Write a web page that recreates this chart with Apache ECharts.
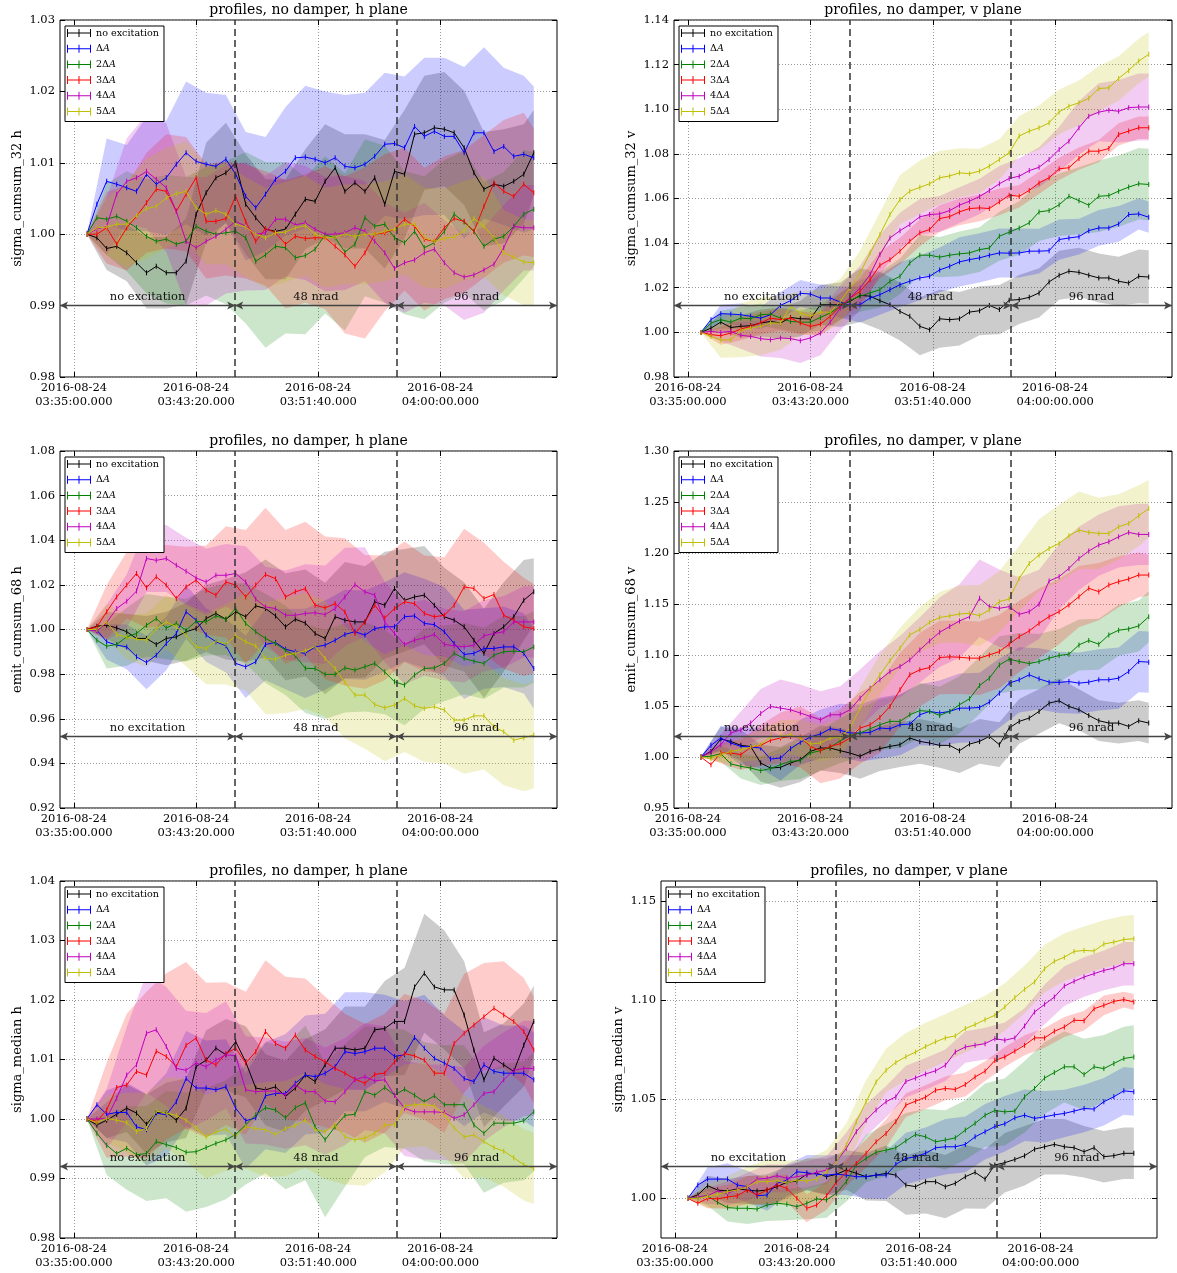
<!DOCTYPE html>
<html>
<head>
<meta charset="utf-8">
<script src="https://cdn.jsdelivr.net/npm/echarts@6/dist/echarts.min.js"></script>
<style>
html,body{margin:0;padding:0;background:#fff}
#chart{width:1177px;height:1273px}
</style>
</head>
<body>
<div id="chart"></div>
<script>
// Sample times, seconds after 2016-08-24 03:35:00 UTC
const sampleSec = [53,94,134,175,216,256,297,337,378,419,459,500,541,581,622,662,703,744,784,825,866,906,947,987,1028,1069,1109,1150,1191,1231,1272,1312,1353,1394,1434,1475,1516,1556,1597,1637,1678,1719,1759,1800,1841,1882];
// Half-width of the shaded spread is sampled on every second time point (plus the last one)
const seriesNames = ['no excitation', 'ΔA', '2ΔA', '3ΔA', '4ΔA', '5ΔA'];
const tickSec = [0, 500, 1000, 1500];
const stepSec = [660, 1320];
const phaseLabels = ['no excitation', '48 nrad', '96 nrad'];

// sigma_cumsum_32 h
const h32_none = [1.0,0.9995,0.998,0.9983,0.9974,0.996,0.9946,0.9955,0.9946,0.9946,0.9962,1.0028,1.0058,1.0079,1.0086,1.01,1.0042,1.0023,1.0007,1.0004,1.0007,1.0028,1.0049,1.0046,1.0074,1.0093,1.006,1.0072,1.006,1.0079,1.0042,1.0088,1.0084,1.014,1.0142,1.0149,1.0147,1.0142,1.0121,1.0086,1.0063,1.007,1.0067,1.0074,1.0084,1.0114];
const h32_1 = [1.0,1.0042,1.0074,1.007,1.0065,1.006,1.0084,1.007,1.0079,1.0098,1.0114,1.0102,1.0098,1.0095,1.0105,1.0084,1.0053,1.0037,1.0056,1.0077,1.0088,1.0107,1.0108,1.0105,1.01,1.0107,1.0095,1.0093,1.0098,1.0109,1.0126,1.0127,1.0121,1.0151,1.0137,1.0144,1.0137,1.0137,1.0114,1.0142,1.0142,1.0116,1.0123,1.0109,1.0112,1.0107];
const h32_2 = [1.0,1.0023,1.0021,1.0025,1.0018,1.0009,0.9997,0.999,0.9993,0.9986,0.999,1.0011,1.0004,1.0,1.0002,1.0004,0.9995,0.9962,0.9971,0.9983,0.9981,0.9967,0.997,0.9979,0.9999,0.9995,0.9975,0.9986,1.0023,1.0011,1.0014,0.9995,0.9988,1.0004,0.9981,0.9988,1.0004,1.0028,1.0017,1.0004,0.9983,0.9993,0.9997,1.0011,1.0028,1.0035];
const h32_3 = [1.0,1.0,1.0009,0.9986,1.0009,1.0025,1.0044,1.0063,1.006,1.0032,1.0056,1.0079,1.0018,1.0018,1.0022,1.0053,1.0018,0.999,1.0008,1.0002,0.9986,0.9997,0.9994,0.9995,0.9995,0.9983,0.9971,0.9955,0.9974,1.0,1.0002,1.0007,1.0021,1.0011,0.9993,0.999,1.0009,1.0022,1.0018,1.0004,1.0039,1.0072,1.006,1.0053,1.007,1.0058];
const h32_4 = [1.0,1.0007,1.0011,1.0056,1.0074,1.0079,1.0088,1.0077,1.0065,1.0032,0.999,0.9981,0.999,0.9997,1.0007,1.0018,1.0011,1.0,1.0002,1.0021,1.0021,1.0013,1.0016,1.0007,1.0,1.0,1.0002,1.0009,1.0004,0.999,0.9974,0.9952,0.996,0.9964,0.9974,0.9979,0.996,0.9946,0.994,0.9943,0.995,0.9958,0.9981,1.0011,1.0009,1.0009];
const h32_5 = [1.0,1.0009,1.001,1.0014,1.0014,1.0026,1.0036,1.0039,1.0051,1.0057,1.006,1.0037,1.0028,1.0033,1.0028,1.0014,1.001,1.0,0.9995,1.0002,1.0003,1.0009,1.0012,1.0,0.9995,0.9996,1.0,0.9997,1.0,1.0,1.0004,1.0007,1.0014,1.0014,0.9995,0.999,0.9994,0.9996,1.0005,1.0022,1.0011,0.9995,0.9974,0.9968,0.9961,0.996];
const h32_none_hw = [0,.003,.004,.005,.005,.006,.007,.007,.007,.007,.007,.007,.008,.008,.008,.009,.009,.008,.008,.008,.008,.008,.007,.006];
const h32_1_hw = [0,.006,.006,.008,.008,.010,.010,.009,.009,.008,.009,.010,.010,.010,.010,.010,.010,.011,.011,.012,.012,.011,.011,.010];
const h32_2_hw = [0,.005,.007,.008,.009,.009,.009,.010,.012,.013,.012,.011,.011,.011,.011,.011,.010,.010,.010,.010,.009,.009,.009,.008];
const h32_3_hw = [0,.005,.006,.007,.008,.008,.008,.008,.008,.008,.009,.009,.010,.011,.012,.011,.010,.010,.010,.010,.010,.010,.010,.009];
const h32_4_hw = [0,.004,.006,.008,.009,.009,.009,.009,.009,.008,.008,.008,.008,.008,.007,.007,.007,.007,.006,.006,.006,.006,.006,.006];
const h32_5_hw = [0,.004,.006,.007,.007,.007,.007,.007,.007,.007,.007,.007,.007,.007,.007,.007,.007,.007,.007,.007,.007,.006,.006,.006];

// sigma_cumsum_32 v
const v32_none = [1.0,1.0019,1.0046,1.0022,1.0027,1.003,1.0042,1.0049,1.0042,1.0067,1.0061,1.006,1.0124,1.0124,1.0124,1.0139,1.0166,1.0162,1.0142,1.0124,1.0094,1.0072,1.0027,1.0012,1.0061,1.0057,1.0061,1.0091,1.0097,1.0121,1.0102,1.0144,1.0147,1.0157,1.0177,1.0226,1.0256,1.0274,1.0269,1.0256,1.0244,1.0244,1.0229,1.0221,1.0251,1.0248];
const v32_1 = [1.0,1.0057,1.0084,1.0082,1.0079,1.0072,1.0064,1.0079,1.0121,1.0142,1.0175,1.0172,1.0154,1.0154,1.0136,1.0121,1.0124,1.0154,1.0169,1.0191,1.0214,1.0229,1.0244,1.0251,1.028,1.0296,1.0316,1.0326,1.0334,1.0346,1.0356,1.0355,1.0356,1.0364,1.0364,1.0366,1.0416,1.0423,1.0429,1.0456,1.0468,1.0468,1.0486,1.0528,1.0531,1.0516];
const v32_2 = [1.0,1.0042,1.0057,1.0046,1.0064,1.0061,1.0079,1.0082,1.0064,1.0049,1.0046,1.0046,1.0067,1.0087,1.0117,1.0144,1.0162,1.0177,1.0191,1.0229,1.0251,1.0311,1.0346,1.0346,1.0337,1.0346,1.0352,1.0356,1.0371,1.0378,1.0431,1.0449,1.0468,1.0491,1.054,1.0546,1.0572,1.061,1.059,1.057,1.061,1.0613,1.0633,1.0651,1.0666,1.0663];
const v32_3 = [1.0,0.999,0.9985,0.9997,1.0015,1.0027,1.0042,1.0064,1.0057,1.0064,1.0042,1.0027,1.0037,1.0072,1.0117,1.0154,1.0184,1.0236,1.0301,1.0326,1.0364,1.0408,1.0446,1.0461,1.051,1.0519,1.054,1.0555,1.0558,1.0555,1.0585,1.0615,1.061,1.0636,1.067,1.0693,1.0733,1.0738,1.0779,1.0812,1.0812,1.0824,1.0887,1.0902,1.0917,1.0917];
const v32_4 = [1.0,1.0004,1.0,1.0004,0.9987,0.9982,0.9972,0.9967,0.9975,0.9972,0.9963,0.9975,0.9997,1.0046,1.0109,1.0154,1.0199,1.0259,1.0349,1.0423,1.0456,1.0483,1.0518,1.0528,1.0531,1.0546,1.057,1.0588,1.0609,1.0636,1.0666,1.069,1.07,1.0725,1.074,1.0775,1.082,1.0857,1.0917,1.0969,1.0987,1.0996,1.0991,1.1007,1.101,1.101];
const v32_5 = [1.0,0.9982,0.9966,0.9967,1.0009,1.0019,1.0027,1.0042,1.0042,1.0117,1.0087,1.0072,1.0091,1.009,1.0139,1.0199,1.0266,1.0356,1.0438,1.0528,1.0595,1.0633,1.065,1.0666,1.0693,1.0701,1.0715,1.0711,1.0723,1.0745,1.0775,1.0805,1.088,1.0902,1.0917,1.0939,1.0988,1.1014,1.1029,1.1049,1.1093,1.1096,1.1138,1.1174,1.1216,1.1246];
const v32_none_hw = [0,.004,.005,.006,.007,.008,.009,.010,.012,.013,.013,.013,.013,.012,.011,.011,.011,.011,.011,.011,.011,.011,.012,.012];
const v32_1_hw = [0,.004,.005,.005,.006,.006,.006,.007,.008,.009,.010,.010,.010,.011,.011,.011,.011,.010,.009,.008,.008,.008,.007,.007];
const v32_2_hw = [0,.004,.005,.005,.005,.005,.006,.006,.007,.008,.008,.009,.009,.010,.010,.011,.012,.013,.014,.015,.016,.016,.016,.016];
const v32_3_hw = [0,.004,.005,.005,.005,.005,.005,.006,.006,.006,.006,.006,.006,.006,.006,.006,.005,.005,.005,.005,.005,.005,.005,.005];
const v32_4_hw = [0,.004,.006,.008,.009,.010,.010,.010,.010,.009,.008,.008,.008,.008,.008,.008,.008,.009,.010,.012,.013,.014,.015,.015];
const v32_5_hw = [0,.008,.012,.013,.012,.010,.010,.010,.010,.010,.011,.012,.012,.011,.010,.009,.009,.010,.010,.010,.010,.010,.010,.010];

// emit_cumsum_68 h
const e68h_none = [1.0,1.0015,1.0019,1.0007,0.999,0.996,0.996,0.9933,0.996,0.9967,0.999,1.0004,1.0049,1.0072,1.0046,1.0079,1.0057,1.0106,1.0094,1.0061,1.0012,1.0046,1.0029,0.9982,0.996,1.0057,1.0042,1.0034,1.0034,1.0124,1.0109,1.0184,1.0131,1.0146,1.0154,1.0109,1.0057,1.0042,1.0012,0.9952,0.9893,0.9982,1.0012,1.0057,1.0131,1.0169];
const e68h_1 = [1.0,0.9997,0.9945,0.993,0.9922,0.9878,0.9852,0.9885,0.9937,0.9982,1.0079,1.0042,0.9975,0.9945,0.9927,0.9848,0.9833,0.9855,0.9933,0.9942,0.9912,0.99,0.9893,0.9922,0.993,0.9952,0.9978,0.999,0.9975,1.0004,1.0012,1.0012,1.0057,1.0061,1.0027,1.0022,0.999,0.9937,0.9888,0.9893,0.9915,0.9915,0.9922,0.9922,0.9893,0.9825];
const e68h_2 = [1.0,0.9952,0.9925,0.9933,0.9967,0.9982,1.0019,1.0049,1.0007,1.0027,0.9997,1.0037,1.0034,1.0061,1.0046,1.0094,1.0027,0.999,0.996,0.9937,0.9907,0.9882,0.9826,0.9825,0.9799,0.9799,0.9828,0.9818,0.9833,0.9848,0.981,0.9766,0.9751,0.9796,0.9825,0.9828,0.9848,0.9893,0.987,0.9858,0.9848,0.9885,0.99,0.9903,0.99,0.9922];
const e68h_3 = [1.0,1.0012,1.0079,1.0146,1.0199,1.0251,1.0187,1.0236,1.0199,1.0139,1.0191,1.0221,1.0176,1.0154,1.0213,1.0199,1.0146,1.0199,1.0246,1.0228,1.0146,1.0169,1.0183,1.0109,1.0097,1.0116,1.0079,0.9982,1.0034,1.0109,1.0052,1.0094,1.0124,1.0116,1.0072,1.0057,1.0064,1.0109,1.0191,1.0184,1.0139,1.0157,1.0064,1.0042,1.0012,1.0004];
const e68h_4 = [1.0,0.9993,1.0031,1.0094,1.0127,1.0172,1.0318,1.031,1.0318,1.0288,1.0261,1.0231,1.0213,1.0243,1.0243,1.0251,1.0213,1.0136,1.0101,1.0094,1.0064,1.0064,1.0072,1.0075,1.0067,1.0094,1.0146,1.0201,1.0169,1.0154,1.0034,0.9982,0.9933,0.9952,0.9963,0.9978,0.9933,0.9927,0.9922,0.993,0.9972,0.9982,0.999,1.0034,1.0034,1.0034];
const e68h_5 = [1.0,1.0,1.0034,0.9978,0.9966,0.9957,0.9952,1.0004,1.0034,1.0012,0.9975,0.9922,0.9915,0.9949,0.9933,0.9972,0.9945,0.9927,0.987,0.9867,0.9885,0.9893,0.9904,0.9925,0.987,0.9825,0.9763,0.9706,0.9706,0.9664,0.9649,0.9661,0.9691,0.9658,0.9646,0.9654,0.9639,0.9594,0.9594,0.9613,0.9613,0.9564,0.9542,0.9504,0.9515,0.9527];
const e68h_none_hw = [0,.006,.008,.010,.012,.013,.015,.018,.020,.022,.024,.024,.025,.026,.025,.024,.023,.022,.022,.020,.020,.020,.018,.015];
const e68h_1_hw = [0,.008,.010,.012,.012,.012,.012,.012,.014,.016,.018,.020,.020,.020,.020,.020,.020,.020,.020,.020,.018,.018,.018,.018];
const e68h_2_hw = [0,.010,.013,.014,.014,.014,.015,.016,.018,.020,.020,.020,.020,.020,.020,.019,.018,.018,.017,.016,.016,.016,.016,.016];
const e68h_3_hw = [0,.012,.015,.018,.018,.018,.020,.025,.030,.030,.030,.030,.032,.033,.030,.028,.027,.026,.026,.026,.025,.024,.022,.020];
const e68h_4_hw = [0,.008,.012,.015,.015,.015,.015,.014,.016,.018,.020,.022,.022,.022,.020,.018,.018,.017,.016,.016,.016,.016,.016,.016];
const e68h_5_hw = [0,.008,.010,.012,.012,.014,.016,.018,.022,.025,.026,.026,.026,.025,.024,.024,.024,.024,.024,.024,.024,.024,.024,.024];

// emit_cumsum_68 v
const e68v_none = [1.0,1.0055,1.0176,1.0153,1.0114,1.0104,0.9941,0.9892,0.9899,0.9941,0.9974,1.0055,1.0088,1.0088,1.0062,1.0039,1.0007,1.0055,1.0082,1.0104,1.0121,1.0186,1.0153,1.0137,1.0114,1.0114,1.0062,1.0127,1.0153,1.0202,1.0121,1.0284,1.0349,1.0382,1.0447,1.0528,1.0551,1.0496,1.0463,1.0408,1.0356,1.0333,1.0333,1.03,1.0356,1.0333];
const e68v_1 = [1.0,1.0114,1.0186,1.0137,1.0104,1.0098,1.0088,0.998,0.999,1.0082,1.0144,1.0196,1.0225,1.0277,1.0261,1.0235,1.0235,1.0241,1.0284,1.0277,1.0316,1.0323,1.0414,1.0447,1.0431,1.0447,1.0479,1.0479,1.0486,1.0538,1.0626,1.0724,1.0757,1.0806,1.0766,1.0734,1.0731,1.074,1.0724,1.0734,1.0757,1.0757,1.0773,1.0838,1.0936,1.093];
const e68v_2 = [1.0,1.0007,1.0033,0.9932,0.9909,0.9892,0.9866,0.9886,0.9925,0.9958,0.9964,1.0039,1.0062,1.0095,1.016,1.0212,1.0235,1.0277,1.0316,1.0349,1.0349,1.0414,1.0455,1.0447,1.0408,1.0447,1.0512,1.0571,1.0701,1.0773,1.0903,1.0959,1.0936,1.0916,1.0936,1.0969,1.0995,1.1008,1.1099,1.1142,1.1106,1.1197,1.1243,1.1256,1.1285,1.1376];
const e68v_3 = [1.0,0.9925,1.0039,1.0039,1.0023,1.0095,1.0114,1.0163,1.0186,1.0202,1.0196,1.0104,1.0062,1.0104,1.013,1.0186,1.0284,1.0316,1.0388,1.0496,1.0659,1.0806,1.0855,1.0877,1.0975,1.0982,1.0978,1.0969,1.0969,1.1001,1.1034,1.1106,1.1181,1.1236,1.1311,1.1376,1.1425,1.1491,1.1572,1.1654,1.1621,1.1686,1.1719,1.1745,1.1784,1.1784];
const e68v_4 = [1.0,1.0049,1.0121,1.0235,1.0267,1.0333,1.0427,1.0496,1.0479,1.0463,1.0431,1.0398,1.0365,1.0414,1.0414,1.0463,1.0577,1.0675,1.0757,1.0838,1.0887,1.0952,1.105,1.1138,1.1223,1.1279,1.1334,1.1376,1.1556,1.1474,1.1458,1.1474,1.1399,1.1425,1.1497,1.1725,1.1768,1.1849,1.1947,1.2019,1.2078,1.211,1.2159,1.2202,1.2182,1.2182];
const e68v_5 = [1.0,0.9984,1.0023,1.0055,1.0072,1.0095,1.0121,1.0199,1.0202,1.0219,1.0186,1.0127,1.0137,1.0186,1.0192,1.0284,1.0479,1.0659,1.0806,1.0943,1.1067,1.1197,1.125,1.1321,1.1367,1.1383,1.1402,1.1409,1.1386,1.1442,1.1523,1.1549,1.1751,1.1898,1.198,1.2045,1.2094,1.2169,1.2224,1.2202,1.2192,1.2192,1.2257,1.229,1.2365,1.2436];
const e68v_none_hw = [0,.012,.015,.018,.020,.022,.022,.022,.022,.022,.022,.022,.022,.022,.022,.022,.022,.022,.022,.020,.020,.020,.020,.020];
const e68v_1_hw = [0,.012,.018,.020,.022,.022,.024,.026,.028,.030,.030,.030,.032,.034,.034,.034,.032,.030,.030,.030,.030,.030,.030,.030];
const e68v_2_hw = [0,.008,.012,.014,.016,.018,.020,.022,.024,.025,.026,.027,.028,.028,.028,.028,.028,.027,.026,.025,.025,.025,.025,.025];
const e68v_3_hw = [0,.010,.015,.020,.025,.030,.032,.034,.035,.035,.036,.036,.036,.036,.036,.036,.035,.034,.032,.030,.028,.025,.022,.020];
const e68v_4_hw = [0,.010,.018,.024,.028,.028,.028,.028,.028,.028,.030,.032,.034,.036,.038,.038,.036,.034,.032,.031,.030,.030,.030,.030];
const e68v_5_hw = [0,.008,.012,.015,.016,.018,.018,.018,.020,.020,.020,.022,.025,.028,.030,.030,.032,.035,.038,.038,.035,.032,.030,.028];

// sigma_median h
const medh_none = [1.0,0.999,0.9998,1.0008,1.0018,1.001,0.9991,1.0011,1.0011,0.9998,1.0018,1.0088,1.0099,1.0119,1.0108,1.013,1.0096,1.0052,1.0049,1.0054,1.0038,1.0052,1.0074,1.0063,1.0091,1.0119,1.0119,1.0116,1.0119,1.015,1.0152,1.0164,1.0164,1.0222,1.0245,1.0222,1.0217,1.0217,1.0175,1.0116,1.0066,1.0102,1.0091,1.008,1.0124,1.0164];
const medh_1 = [1.0,1.0024,1.0008,1.0011,1.0011,0.9987,0.9982,1.001,1.0007,1.0029,1.0068,1.0052,1.0052,1.0049,1.0054,1.0018,0.9997,1.0002,1.0039,1.0043,1.0043,1.006,1.0074,1.0071,1.0077,1.0088,1.0113,1.011,1.0113,1.0119,1.0119,1.0105,1.0108,1.0137,1.0119,1.0102,1.0094,1.0085,1.0068,1.0063,1.0091,1.008,1.0077,1.0077,1.0077,1.0066];
const medh_2 = [1.0,0.9976,0.9956,0.9942,0.9951,0.994,0.9942,0.9962,0.9957,0.9952,0.9944,0.9945,0.9952,0.9959,0.9965,0.9974,0.999,1.0007,1.0019,1.0015,1.0002,1.0019,1.0027,0.9987,0.9965,0.9987,1.0006,1.0008,1.0046,1.004,1.0053,1.004,1.005,1.004,1.0029,1.0039,1.0024,1.0024,1.0024,0.999,0.9976,0.9993,0.9993,0.9993,0.9997,1.0012];
const medh_3 = [1.0,0.9996,1.0015,1.0053,1.0057,1.008,1.0074,1.0114,1.0105,1.0088,1.0124,1.0136,1.0099,1.0091,1.011,1.0119,1.0094,1.0113,1.0147,1.0127,1.0119,1.0141,1.0116,1.0105,1.0096,1.0085,1.0077,1.0067,1.006,1.0075,1.0077,1.0096,1.011,1.0106,1.0099,1.0077,1.0077,1.0127,1.0144,1.0158,1.0172,1.0186,1.0175,1.0164,1.0147,1.0116];
const medh_4 = [1.0,1.0,1.0001,1.0035,1.0074,1.0091,1.0144,1.015,1.0122,1.0085,1.0082,1.0094,1.0088,1.0099,1.0108,1.0106,1.0049,1.0046,1.0047,1.0047,1.004,1.0057,1.0046,1.0046,1.003,1.0029,1.0046,1.0066,1.0071,1.0064,1.0066,1.004,1.0018,1.0012,1.0012,1.0012,1.0011,1.0001,1.0007,1.0024,1.0043,1.0046,1.0066,1.0082,1.0085,1.0085];
const medh_5 = [1.0,0.9994,1.0001,0.9998,0.9994,0.9979,0.9984,1.0013,1.001,1.0006,0.9998,0.9985,0.997,0.9978,0.9983,0.997,0.9987,0.9984,0.9982,0.9974,0.9984,0.9989,0.9998,0.9982,0.9979,0.999,0.997,0.9965,0.9968,0.9976,0.999,0.999,1.0022,1.0024,1.0024,1.0022,1.0007,0.9985,0.997,0.9973,0.9962,0.9952,0.9946,0.9935,0.9923,0.9917];
const medh_none_hw = [0,.003,.004,.005,.005,.005,.005,.006,.006,.006,.006,.006,.006,.007,.007,.008,.009,.010,.010,.009,.008,.007,.007,.006];
const medh_1_hw = [0,.004,.005,.006,.007,.008,.008,.008,.008,.009,.010,.010,.010,.010,.010,.009,.009,.009,.008,.008,.008,.008,.008,.008];
const medh_2_hw = [0,.005,.007,.008,.009,.010,.010,.010,.010,.011,.012,.013,.013,.012,.011,.010,.010,.010,.010,.010,.010,.010,.010,.010];
const medh_3_hw = [0,.008,.012,.014,.014,.014,.013,.012,.012,.012,.012,.012,.011,.010,.010,.010,.010,.010,.010,.010,.009,.009,.009,.009];
const medh_4_hw = [0,.005,.008,.010,.010,.010,.009,.009,.009,.009,.009,.009,.009,.009,.009,.009,.008,.008,.008,.008,.008,.008,.008,.008];
const medh_5_hw = [0,.004,.005,.006,.006,.007,.007,.007,.007,.008,.008,.008,.008,.008,.008,.008,.007,.007,.007,.007,.006,.006,.006,.006];

// sigma_median v
const medv_none = [1.0,1.0017,1.0064,1.0042,1.0037,1.0047,1.0042,1.0037,1.0042,1.0059,1.0081,1.0087,1.0122,1.0126,1.0109,1.0121,1.0143,1.0126,1.0109,1.0117,1.0126,1.0117,1.0067,1.0059,1.0084,1.0084,1.0059,1.0076,1.0109,1.0131,1.0097,1.0168,1.018,1.0196,1.0215,1.0248,1.026,1.0272,1.026,1.0255,1.0235,1.0255,1.021,1.0215,1.0227,1.0227];
const medv_1 = [1.0,1.0067,1.0097,1.0097,1.0097,1.0067,1.0059,1.0013,1.0017,1.0076,1.0092,1.0134,1.0129,1.0122,1.0117,1.0122,1.0117,1.0109,1.0109,1.0117,1.0117,1.0171,1.0201,1.021,1.0227,1.0255,1.026,1.026,1.0272,1.031,1.0336,1.0362,1.0376,1.0406,1.0419,1.0403,1.0411,1.0421,1.0428,1.044,1.0453,1.045,1.0487,1.0512,1.0542,1.0537];
const medv_2 = [1.0,1.0005,1.0013,0.998,0.9953,0.995,0.995,0.9946,0.9966,0.9975,0.997,0.9958,0.9975,0.9997,0.9992,1.0025,1.0084,1.0168,1.0201,1.0232,1.0243,1.0255,1.029,1.0322,1.031,1.0285,1.0294,1.0305,1.0344,1.0378,1.0419,1.0443,1.0436,1.044,1.0512,1.0554,1.0607,1.0634,1.0663,1.0663,1.0624,1.0663,1.0654,1.068,1.0705,1.0713];
const medv_3 = [1.0,0.9975,1.0,0.9997,1.0007,1.0013,1.0042,1.0017,1.0042,1.0067,1.005,1.0,0.995,0.9966,1.0013,1.0081,1.0131,1.0176,1.0227,1.0285,1.0327,1.0386,1.047,1.049,1.051,1.0545,1.0554,1.0549,1.0574,1.0612,1.0641,1.0695,1.0713,1.0742,1.0772,1.0809,1.0809,1.0842,1.0864,1.0898,1.0896,1.0956,1.0973,1.0993,1.1002,1.099];
const medv_4 = [1.0,1.0008,1.0013,1.0037,1.0025,1.0045,1.0059,1.0097,1.0101,1.0114,1.0101,1.0109,1.0117,1.0131,1.0143,1.0185,1.0252,1.0336,1.0394,1.0445,1.0487,1.0512,1.0589,1.0607,1.0627,1.0643,1.0671,1.0738,1.0763,1.0772,1.078,1.0805,1.0797,1.0809,1.0869,1.094,1.0978,1.1015,1.107,1.1094,1.1116,1.1133,1.1149,1.1161,1.1183,1.1183];
const medv_5 = [1.0,1.0,1.001,1.002,1.0034,1.0042,1.0059,1.0084,1.0084,1.0089,1.0079,1.0092,1.0087,1.0097,1.0134,1.0185,1.0268,1.0386,1.0487,1.0587,1.0646,1.0685,1.0714,1.0738,1.0765,1.0789,1.0809,1.0819,1.0856,1.0876,1.0901,1.0923,1.0965,1.1012,1.1054,1.1091,1.1158,1.1195,1.1216,1.1245,1.125,1.1247,1.1282,1.1292,1.1305,1.1309];
const medv_none_hw = [0,.005,.006,.007,.008,.008,.008,.009,.010,.012,.014,.015,.016,.016,.016,.015,.015,.015,.014,.014,.013,.013,.013,.013];
const medv_1_hw = [0,.006,.008,.008,.008,.008,.009,.010,.010,.011,.012,.013,.013,.014,.014,.014,.014,.013,.013,.012,.012,.012,.012,.012];
const medv_2_hw = [0,.005,.007,.008,.008,.008,.008,.009,.010,.012,.013,.014,.014,.015,.015,.016,.017,.018,.018,.018,.018,.017,.016,.016];
const medv_3_hw = [0,.005,.006,.007,.007,.007,.007,.007,.007,.007,.007,.006,.006,.006,.006,.005,.005,.005,.005,.005,.005,.005,.004,.004];
const medv_4_hw = [0,.004,.006,.007,.007,.007,.007,.007,.008,.008,.008,.008,.008,.008,.008,.008,.009,.009,.010,.010,.010,.010,.011,.011];
const medv_5_hw = [0,.006,.008,.010,.011,.011,.011,.011,.011,.011,.011,.012,.012,.012,.012,.012,.012,.012,.012,.012,.012,.012,.012,.012];

const panels = [
  {title: 'profiles, no damper, h plane', yName: 'sigma_cumsum_32 h', yRange: [0.98, 1.03], yStep: 0.01,
   lines: [h32_none, h32_1, h32_2, h32_3, h32_4, h32_5],
   spread: [h32_none_hw, h32_1_hw, h32_2_hw, h32_3_hw, h32_4_hw, h32_5_hw]},
  {title: 'profiles, no damper, v plane', yName: 'sigma_cumsum_32 v', yRange: [0.98, 1.14], yStep: 0.02,
   lines: [v32_none, v32_1, v32_2, v32_3, v32_4, v32_5],
   spread: [v32_none_hw, v32_1_hw, v32_2_hw, v32_3_hw, v32_4_hw, v32_5_hw]},
  {title: 'profiles, no damper, h plane', yName: 'emit_cumsum_68 h', yRange: [0.92, 1.08], yStep: 0.02,
   lines: [e68h_none, e68h_1, e68h_2, e68h_3, e68h_4, e68h_5],
   spread: [e68h_none_hw, e68h_1_hw, e68h_2_hw, e68h_3_hw, e68h_4_hw, e68h_5_hw]},
  {title: 'profiles, no damper, v plane', yName: 'emit_cumsum_68 v', yRange: [0.95, 1.30], yStep: 0.05,
   lines: [e68v_none, e68v_1, e68v_2, e68v_3, e68v_4, e68v_5],
   spread: [e68v_none_hw, e68v_1_hw, e68v_2_hw, e68v_3_hw, e68v_4_hw, e68v_5_hw]},
  {title: 'profiles, no damper, h plane', yName: 'sigma_median h', yRange: [0.98, 1.04], yStep: 0.01,
   lines: [medh_none, medh_1, medh_2, medh_3, medh_4, medh_5],
   spread: [medh_none_hw, medh_1_hw, medh_2_hw, medh_3_hw, medh_4_hw, medh_5_hw]},
  {title: 'profiles, no damper, v plane', yName: 'sigma_median v', yRange: [0.98, 1.16], yTicks: [1.00, 1.05, 1.10, 1.15],
   lines: [medv_none, medv_1, medv_2, medv_3, medv_4, medv_5],
   spread: [medv_none_hw, medv_1_hw, medv_2_hw, medv_3_hw, medv_4_hw, medv_5_hw]}
];

// ---- layout & style ----
const gridRects = [[60, 20, 497, 357], [674, 20, 498, 357], [60, 451, 497, 357], [674, 451, 498, 357], [60, 881, 497, 357], [661, 881, 496, 357]];
const lineColors = ['#000000', '#0000ff', '#008000', '#ff0000', '#bf00bf', '#bfbf00'];
const bandColors = ['rgba(0,0,0,0.2)', 'rgba(0,0,255,0.2)', 'rgba(0,128,0,0.2)', 'rgba(255,0,0,0.2)', 'rgba(191,0,191,0.2)', 'rgba(191,191,0,0.2)'];
const SERIF = '"DejaVu Serif", "Liberation Serif", serif';
const legendIcon = 'path://M0,4.5L24,4.5L24,5.5L0,5.5Z M0,1L1,1L1,9L0,9Z M23,1L24,1L24,9L23,9Z M11.5,1L12.5,1L12.5,9L11.5,9Z';

// x values are epoch milliseconds (UTC) on a plain value axis
const T0 = Date.UTC(2016, 7, 24, 3, 35, 0);
const toTime = s => T0 + s * 1000;
const xMin = toTime(-57), xMax = toTime(1977);
const xTicks = tickSec.map(toTime);
const times = sampleSec.map(toTime);

const pad = n => String(n).padStart(2, '0');
function fmtTime(v) {
  const d = new Date(v);
  return d.getUTCFullYear() + '-' + pad(d.getUTCMonth() + 1) + '-' + pad(d.getUTCDate()) + '\n' +
    pad(d.getUTCHours()) + ':' + pad(d.getUTCMinutes()) + ':' + pad(d.getUTCSeconds()) + '.000';
}

const tickStyle = {show: true, inside: true, length: 5, lineStyle: {color: '#000', width: 1}};
const gridLine = {show: true, lineStyle: {color: '#9a9a9a', width: 1, type: [1, 2]}};

const option = {
  animation: false, backgroundColor: '#fff',
  title: [], legend: [], grid: [], xAxis: [], yAxis: [], series: []
};

panels.forEach((pn, p) => {
  const [gl, gt, gw, gh] = gridRects[p];
  const [y0, y1] = pn.yRange;
  option.grid.push({left: gl, top: gt, width: gw, height: gh, show: true, borderColor: '#000', borderWidth: 1,
    backgroundColor: '#fff', outerBoundsMode: 'none', containLabel: false});

  option.title.push({text: pn.title, left: gl + gw / 2, top: gt - 17, textAlign: 'center', padding: 0,
    textStyle: {fontFamily: SERIF, fontSize: 14, fontWeight: 'normal', color: '#000'}});

  option.legend.push({
    data: seriesNames, orient: 'vertical', left: gl + 5, top: gt + 6, icon: legendIcon,
    itemWidth: 24, itemHeight: 10, itemGap: 5.7, selectedMode: false,
    padding: [2, 5, 5, 2], borderColor: '#000', borderWidth: 1, backgroundColor: '#fff',
    formatter: name => name.replace('A', '{i|A}'),
    textStyle: {fontFamily: SERIF, fontSize: 9.6, color: '#000', lineHeight: 10,
      rich: {i: {fontFamily: SERIF, fontSize: 9.6, fontStyle: 'italic', color: '#000'}}}
  });

  const xi = option.xAxis.length;
  option.xAxis.push({
    type: 'value', gridIndex: p, min: xMin, max: xMax, scale: true,
    axisLine: {show: false},
    axisTick: Object.assign({customValues: xTicks}, tickStyle),
    axisLabel: {customValues: xTicks, formatter: fmtTime, fontFamily: SERIF, fontSize: 11.5, color: '#000',
      lineHeight: 14, margin: 4, hideOverlap: false},
    splitLine: gridLine
  });
  option.xAxis.push({
    type: 'value', gridIndex: p, position: 'top', min: xMin, max: xMax, scale: true,
    axisLine: {show: false}, axisLabel: {show: false}, splitLine: {show: false},
    axisTick: Object.assign({customValues: xTicks}, tickStyle)
  });

  const yi = option.yAxis.length;
  const yTickOpt = pn.yTicks ? {customValues: pn.yTicks} : {};
  const yBase = {type: 'value', gridIndex: p, min: y0, max: y1};
  if (pn.yStep) yBase.interval = pn.yStep;
  option.yAxis.push(Object.assign({}, yBase, {
    axisLine: {show: false},
    axisTick: Object.assign({}, yTickOpt, tickStyle),
    axisLabel: Object.assign({}, yTickOpt, {formatter: v => v.toFixed(2), fontFamily: SERIF, fontSize: 11.5, color: '#000', margin: 5}),
    splitLine: gridLine,
    name: pn.yName, nameLocation: 'middle', nameGap: 36,
    nameTextStyle: {fontFamily: SERIF, fontSize: 13, color: '#000'}
  }));
  option.yAxis.push(Object.assign({}, yBase, {
    position: 'right', axisLine: {show: false}, axisLabel: {show: false}, splitLine: {show: false},
    axisTick: Object.assign({}, yTickOpt, tickStyle)
  }));

  pn.lines.forEach((vals, k) => {
    // shaded spread: value ± half-width at every second sample
    const hw = pn.spread[k];
    const pts = hw.map((h, j) => {
      const i = Math.min(2 * j, vals.length - 1);
      return [times[i], vals[i] - h, vals[i] + h];
    });
    option.series.push({
      type: 'custom', xAxisIndex: xi, yAxisIndex: yi, silent: true,
      data: pts, encode: {x: 0, y: [1, 2]},
      renderItem: (params, api) => {
        if (params.dataIndex !== 0) return null;
        const poly = [];
        for (let j = 0; j < pts.length; j++) poly.push(api.coord([pts[j][0], pts[j][2]]));
        for (let j = pts.length - 1; j >= 0; j--) poly.push(api.coord([pts[j][0], pts[j][1]]));
        return {type: 'polygon', shape: {points: poly}, style: {fill: bandColors[k]}};
      }
    });
    option.series.push({
      type: 'line', name: seriesNames[k], xAxisIndex: xi, yAxisIndex: yi,
      data: vals.map((v, i) => [times[i], v]),
      symbol: 'rect', symbolSize: [1, 5], showSymbol: true, showAllSymbol: true,
      itemStyle: {color: lineColors[k], borderWidth: 0},
      lineStyle: {color: lineColors[k], width: 1},
      emphasis: {disabled: true}
    });
  });

  // excitation steps and phase arrows
  const yA = y0 + 0.2 * (y1 - y0);
  const bounds = [xMin, toTime(stepSec[0]), toTime(stepSec[1]), xMax];
  const marks = stepSec.map(s => ({xAxis: toTime(s), symbol: 'none',
    lineStyle: {color: '#333', width: 1.5, type: [7, 4]}, label: {show: false}}));
  phaseLabels.forEach((txt, j) => {
    marks.push([
      {coord: [bounds[j], yA], symbol: 'arrow', symbolSize: [6, 8],
       lineStyle: {color: '#444', width: 1.3, type: 'solid'},
       label: {show: true, position: 'middle', formatter: txt, fontFamily: SERIF, fontSize: 11.5, color: '#111', distance: 3}},
      {coord: [bounds[j + 1], yA], symbol: 'arrow', symbolSize: [6, 8]}
    ]);
  });
  option.series.push({
    type: 'line', xAxisIndex: xi, yAxisIndex: yi, silent: true,
    data: [[xMin, yA]], symbol: 'none', lineStyle: {opacity: 0},
    markLine: {silent: true, animation: false, symbol: ['none', 'none'], precision: 4, data: marks}
  });
});

const chart = echarts.init(document.getElementById('chart'));
chart.setOption(option);
</script>
</body>
</html>
